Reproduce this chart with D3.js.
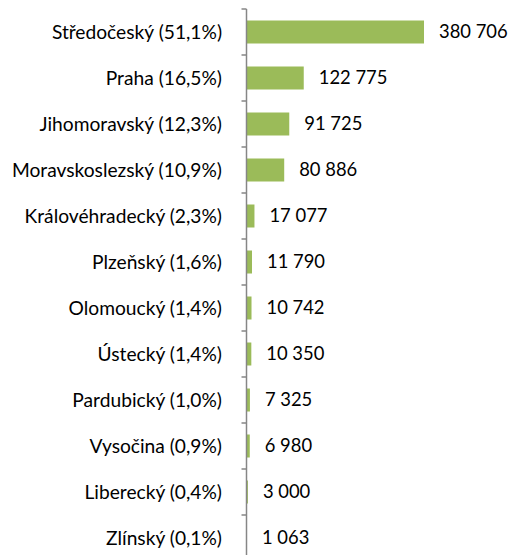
<!DOCTYPE html>
<html><head><meta charset="utf-8">
<script src="https://cdn.jsdelivr.net/npm/d3@7"></script>
<style>body{margin:0;background:#fff;}svg{display:block;}</style>
</head><body>
<script>
const categories = ["Středočeský (51,1%)","Praha (16,5%)","Jihomoravský (12,3%)","Moravskoslezský (10,9%)","Královéhradecký (2,3%)","Plzeňský (1,6%)","Olomoucký (1,4%)","Ústecký (1,4%)","Pardubický (1,0%)","Vysočina (0,9%)","Liberecký (0,4%)","Zlínský (0,1%)"];
const values = [380706,122775,91725,80886,17077,11790,10742,10350,7325,6980,3000,1063];
const valueLabels = ["380 706","122 775","91 725","80 886","17 077","11 790","10 742","10 350","7 325","6 980","3 000","1 063"];

(function(){
const W = 509, H = 555;
const svg = d3.select("body").append("svg").attr("width", W).attr("height", H);
const x0 = 246.5, yTop = 9, step = 46;
const y = d3.scaleBand().domain(categories).range([yTop, yTop + step*categories.length]).paddingInner(0.5).paddingOuter(0.25);
const x = d3.scaleLinear().domain([0, 380706]).range([x0, 424]);
const font = "Lato, 'Open Sans', sans-serif";

svg.selectAll("rect.bar").data(values).enter().append("rect")
  .attr("x", x0).attr("y", (d,i)=>y(categories[i]))
  .attr("width", d=>x(d)-x0).attr("height", y.bandwidth())
  .attr("fill", "#9BBB59");

const g = svg.append("g").attr("transform", `translate(${x0},0)`);
g.append("line").attr("x1",0).attr("x2",0).attr("y1",yTop).attr("y2",yTop+step*categories.length).attr("stroke","#868686").attr("stroke-width",1.5);
d3.range(categories.length+1).forEach(k=>{
  g.append("line").attr("x1",-5).attr("x2",0).attr("y1",yTop+k*step).attr("y2",yTop+k*step).attr("stroke","#868686").attr("stroke-width",1.5);
});

svg.selectAll("text.cat").data(categories).enter().append("text")
  .attr("x", 222).attr("y", d=>y(d)+y.bandwidth()/2).attr("dy","0.35em")
  .attr("text-anchor","end").attr("font-family",font).attr("font-size","19.2px").attr("fill","#000")
  .text(d=>d);

svg.selectAll("text.val").data(values).enter().append("text")
  .attr("x", d=>x(d)+15).attr("y", (d,i)=>y(categories[i])+y.bandwidth()/2).attr("dy","0.35em")
  .attr("font-family",font).attr("font-size","18.4px").attr("fill","#000")
  .text((d,i)=>valueLabels[i]);
})();
</script>
</body></html>
